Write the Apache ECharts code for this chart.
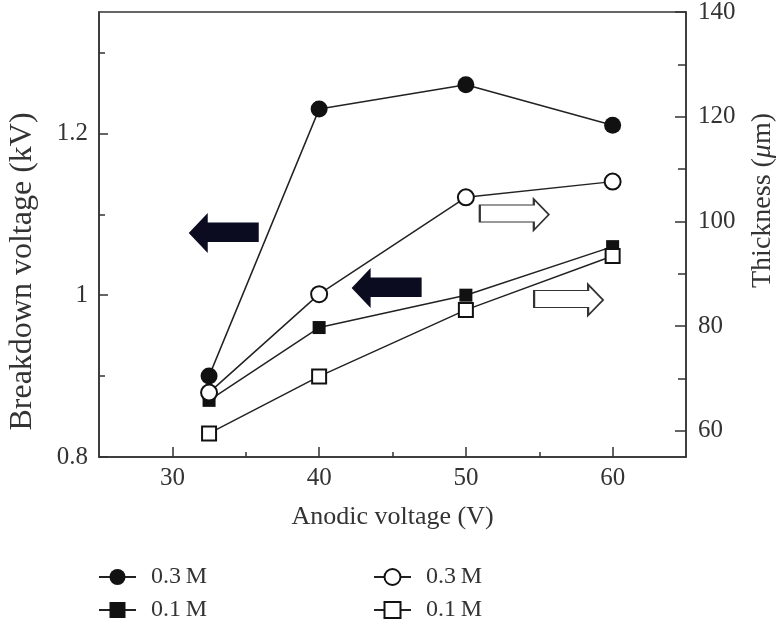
<!DOCTYPE html>
<html>
<head>
<meta charset="utf-8">
<script src="https://cdn.jsdelivr.net/npm/echarts@6/dist/echarts.min.js"></script>
<style>
	html, body { margin: 0; padding: 0; background: #fff; }
	#chart { width: 777px; height: 626px; }
</style>
</head>
<body>
<div id="chart"></div>
<script>
// values
const anodicVoltage = [32.5, 40, 50, 60];
const breakdown03 = [0.90, 1.23, 1.26, 1.21];
const breakdown01 = [0.87, 0.96, 1.00, 1.06];
const thickness03 = [67.3, 86.1, 104.6, 107.6];
const thickness01 = [59.5, 70.4, 83.1, 93.4];

const xTicks = [30, 40, 50, 60];
const xMinorTicks = [35, 45, 55];
const leftTicks = [0.8, 1, 1.2];
const leftMinorTicks = [0.9, 1.1, 1.3];
const rightTicks = [60, 80, 100, 120, 140];
const rightMinorTicks = [70, 90, 110, 130];

const legendLabels = { bd03: '0.3\u2009M', bd01: '0.1\u2009M', th03: '0.3\u2009M', th01: '0.1\u2009M' };

// arrows pointing at the axis each pair of curves belongs to (data coordinates)
const leftArrows = [[33.5, 1.077], [44.6, 1.009]];
const rightArrows = [[53.3, 101.3], [57.0, 85.0]];

const FONT = 'Liberation Serif';
const INK = '#333';

const zip = (xs, ys) => xs.map((x, i) => [x, ys[i]]);

const axisLine = { show: true, onZero: false, lineStyle: { color: INK, width: 1.5 } };
const tickStyle = { color: INK, width: 1.5 };
const labelStyle = { fontFamily: FONT, fontSize: 25, color: INK };

const lineSeries = (name, yAxisIndex, values, symbol, size) => ({
	name: name,
	type: 'line',
	xAxisIndex: 0,
	yAxisIndex: yAxisIndex,
	data: zip(anodicVoltage, values),
	symbol: symbol,
	symbolSize: size,
	itemStyle: { color: '#111', borderWidth: 1.5 },
	lineStyle: { color: '#222', width: 1.5 },
	emphasis: { disabled: true },
	silent: true,
	z: 3
});

const chart = echarts.init(document.getElementById('chart'), null, { renderer: 'canvas' });

const bd03 = lineSeries('bd03', 0, breakdown03, 'circle', 17);
bd03.markPoint = {
	silent: true,
	label: { show: false },
	symbol: 'path://M0,20 L19,0 L19,9.5 L70,9.5 L70,29 L19,29 L19,40 Z',
	symbolSize: [70, 40],
	itemStyle: { color: '#0b0c1f' },
	data: leftArrows.map(c => ({ coord: c }))
};

const th03 = lineSeries('th03', 2, thickness03, 'emptyCircle', 16);
th03.markPoint = {
	silent: true,
	label: { show: false },
	symbol: 'path://M0,6 L54,6 L54,0 L69,15.5 L54,31 L54,23 L0,23 Z',
	symbolSize: [69, 31],
	itemStyle: { color: '#fff', borderColor: INK, borderWidth: 1.5 },
	data: rightArrows.map(c => ({ coord: c }))
};

const legendBase = {
	orient: 'vertical',
	top: 565,
	padding: 0,
	itemWidth: 37,
	itemHeight: 20,
	itemGap: 9,
	selectedMode: false,
	formatter: name => legendLabels[name],
	textStyle: { fontFamily: FONT, fontSize: 24, color: INK, lineHeight: 24, padding: [0, 0, 0, 10] }
};

chart.setOption({
	animation: false,
	backgroundColor: '#fff',
	grid: {
		left: 99, right: 91, top: 12, bottom: 169,
		outerBoundsMode: 'none',
		show: true, borderColor: INK, borderWidth: 1.5
	},
	legend: [
		Object.assign({}, legendBase, { left: 98, data: ['bd03', 'bd01'] }),
		Object.assign({}, legendBase, { left: 373, data: ['th03', 'th01'] })
	],
	xAxis: [
		{
			type: 'value', min: 25, max: 65, position: 'bottom',
			axisLine: axisLine,
			axisTick: { inside: true, length: 10, customValues: xTicks, lineStyle: tickStyle },
			axisLabel: Object.assign({ customValues: xTicks, margin: 9 }, labelStyle),
			splitLine: { show: false },
			name: 'Anodic voltage (V)', nameLocation: 'middle', nameGap: 47,
			nameTextStyle: { fontFamily: FONT, fontSize: 26, color: INK }
		},
		{
			type: 'value', min: 25, max: 65, position: 'bottom',
			axisLine: { show: false },
			axisTick: { inside: true, length: 5, customValues: xMinorTicks, lineStyle: tickStyle },
			axisLabel: { show: false },
			splitLine: { show: false }
		}
	],
	yAxis: [
		{
			type: 'value', min: 0.8, max: 1.35, position: 'left',
			axisLine: axisLine,
			axisTick: { inside: true, length: 9, customValues: leftTicks, lineStyle: tickStyle },
			axisLabel: Object.assign({ customValues: leftTicks, margin: 11 }, labelStyle),
			splitLine: { show: false },
			name: 'Breakdown voltage (kV)', nameLocation: 'middle', nameGap: 60,
			nameTextStyle: { fontFamily: FONT, fontSize: 32, color: INK, padding: [0, 74, 0, 0] }
		},
		{
			type: 'value', min: 0.8, max: 1.35, position: 'left',
			axisLine: { show: false },
			axisTick: { inside: true, length: 6, customValues: leftMinorTicks, lineStyle: tickStyle },
			axisLabel: { show: false },
			splitLine: { show: false }
		},
		{
			type: 'value', min: 55, max: 140, position: 'right',
			axisLine: axisLine,
			axisTick: { inside: true, length: 11, customValues: rightTicks, lineStyle: tickStyle },
			axisLabel: Object.assign({ customValues: rightTicks, margin: 12 }, labelStyle),
			splitLine: { show: false },
			name: '{n|Thickness (}{i|μ}{n|m)}', nameLocation: 'middle', nameGap: 63,
			nameTextStyle: {
				fontFamily: FONT, fontSize: 28, color: INK, padding: [0, 0, 0, 68],
				rich: {
					n: { fontFamily: FONT, fontSize: 28, color: INK },
					i: { fontFamily: FONT, fontSize: 28, color: INK, fontStyle: 'italic' }
				}
			}
		},
		{
			type: 'value', min: 55, max: 140, position: 'right',
			axisLine: { show: false },
			axisTick: { inside: true, length: 8, customValues: rightMinorTicks, lineStyle: tickStyle },
			axisLabel: { show: false },
			splitLine: { show: false }
		}
	],
	series: [
		bd03,
		lineSeries('bd01', 0, breakdown01, 'rect', 13),
		th03,
		lineSeries('th01', 2, thickness01, 'emptyRect', 14)
	]
});

window.addEventListener('resize', () => chart.resize());
</script>
</body>
</html>
